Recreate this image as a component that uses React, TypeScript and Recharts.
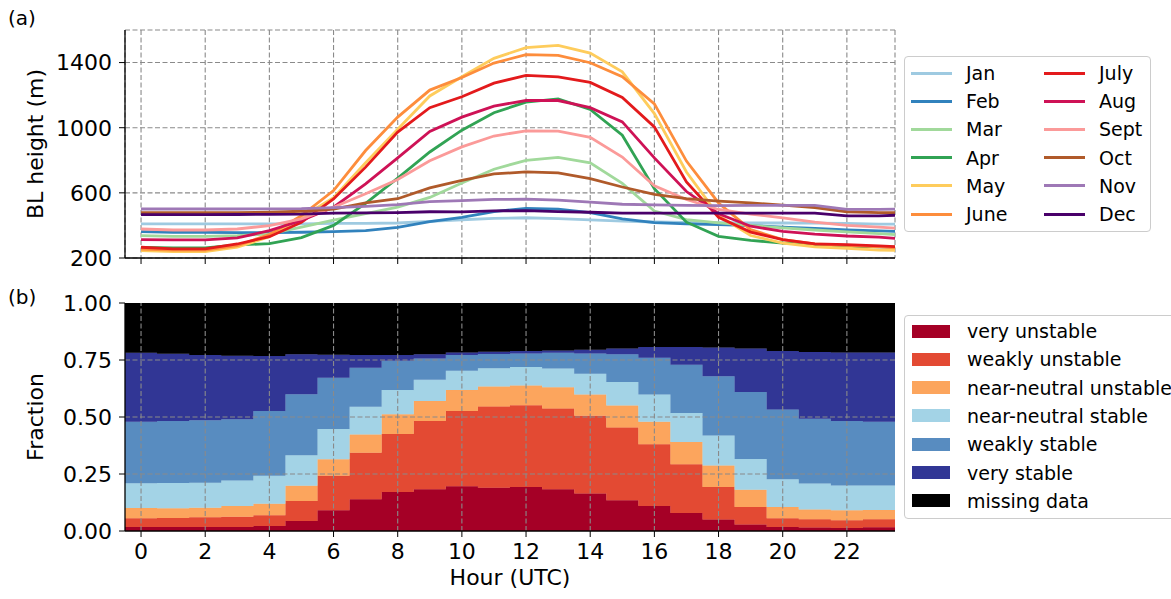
import React from 'react';
import { LineChart, Line, AreaChart, Area, XAxis, YAxis, CartesianGrid, ReferenceLine } from 'recharts';

// hour of day (UTC)
const hours = [0, 1, 2, 3, 4, 5, 6, 7, 8, 9, 10, 11, 12, 13, 14, 15, 16, 17, 18, 19, 20, 21, 22, 23];
const hourTicks = [0, 2, 4, 6, 8, 10, 12, 14, 16, 18, 20, 22];
const fracTicks = [0, 0.25, 0.5, 0.75, 1];

// mean boundary-layer height (m) per hour, one list per month
const jan = [409, 409, 409, 410, 410, 410, 412, 413, 415, 425, 435, 443, 447, 442, 434, 427, 421, 418, 417, 415, 415, 414, 412, 408];
const feb = [362, 358, 357, 356, 356, 358, 362, 368, 388, 423, 449, 485, 505, 500, 478, 440, 417, 410, 405, 399, 390, 382, 372, 366];
const mar = [337, 333, 333, 337, 348, 389, 432, 472, 512, 572, 660, 745, 800, 818, 784, 658, 488, 436, 416, 400, 385, 372, 360, 350];
const apr = [265, 262, 262, 280, 288, 325, 400, 535, 690, 851, 985, 1092, 1157, 1177, 1112, 954, 626, 420, 333, 308, 292, 282, 272, 268];
const may = [245, 240, 240, 266, 330, 450, 570, 785, 990, 1195, 1313, 1426, 1492, 1505, 1458, 1343, 1087, 728, 460, 338, 292, 269, 260, 248];
const jun = [255, 249, 249, 276, 344, 460, 614, 860, 1065, 1231, 1308, 1397, 1449, 1444, 1399, 1313, 1146, 795, 538, 374, 313, 287, 277, 269];
const jul = [266, 256, 256, 286, 331, 419, 563, 758, 973, 1123, 1190, 1274, 1321, 1312, 1278, 1186, 1005, 667, 450, 359, 313, 287, 282, 274];
const aug = [313, 311, 311, 323, 368, 430, 512, 655, 815, 977, 1065, 1133, 1167, 1167, 1123, 1036, 815, 608, 472, 395, 364, 347, 335, 328];
const sep = [378, 372, 372, 378, 399, 440, 512, 594, 682, 797, 882, 949, 981, 979, 941, 820, 643, 559, 498, 470, 446, 420, 400, 390];
const oct = [478, 478, 478, 479, 481, 487, 500, 538, 564, 631, 677, 716, 729, 723, 687, 636, 590, 564, 549, 538, 525, 510, 484, 479];
const nov = [501, 501, 501, 501, 502, 503, 509, 517, 528, 546, 552, 560, 561, 555, 543, 530, 526, 523, 522, 523, 523, 523, 498, 498];
const dec = [466, 466, 466, 467, 468, 469, 475, 477, 479, 484, 483, 489, 491, 485, 481, 476, 476, 476, 476, 476, 476, 476, 459, 459];

// fraction of each stability class per hour
const veryUnstable = [0.018, 0.018, 0.018, 0.018, 0.022, 0.044, 0.091, 0.139, 0.171, 0.183, 0.196, 0.19, 0.193, 0.183, 0.164, 0.135, 0.11, 0.079, 0.05, 0.029, 0.018, 0.015, 0.013, 0.016];
const weaklyUnstable = [0.038, 0.039, 0.042, 0.044, 0.047, 0.088, 0.151, 0.204, 0.254, 0.3, 0.33, 0.356, 0.359, 0.354, 0.341, 0.319, 0.27, 0.214, 0.143, 0.076, 0.038, 0.036, 0.034, 0.035];
const nearNeutralUnstable = [0.045, 0.043, 0.042, 0.048, 0.051, 0.067, 0.073, 0.08, 0.087, 0.087, 0.092, 0.088, 0.086, 0.093, 0.094, 0.096, 0.099, 0.097, 0.094, 0.076, 0.049, 0.043, 0.044, 0.041];
const nearNeutralStable = [0.108, 0.11, 0.11, 0.111, 0.122, 0.133, 0.132, 0.122, 0.106, 0.093, 0.085, 0.08, 0.081, 0.083, 0.091, 0.104, 0.12, 0.127, 0.132, 0.135, 0.122, 0.114, 0.109, 0.108];
const weaklyStable = [0.27, 0.273, 0.274, 0.269, 0.284, 0.268, 0.225, 0.171, 0.129, 0.094, 0.069, 0.062, 0.06, 0.069, 0.089, 0.121, 0.161, 0.212, 0.26, 0.294, 0.306, 0.284, 0.282, 0.279];
const veryStable = [0.303, 0.294, 0.286, 0.279, 0.241, 0.175, 0.101, 0.056, 0.025, 0.018, 0.011, 0.01, 0.01, 0.01, 0.016, 0.025, 0.047, 0.078, 0.126, 0.19, 0.256, 0.293, 0.301, 0.304];
const missingData = [0.218, 0.223, 0.228, 0.231, 0.233, 0.225, 0.227, 0.228, 0.228, 0.225, 0.217, 0.214, 0.211, 0.208, 0.205, 0.2, 0.193, 0.193, 0.195, 0.2, 0.211, 0.215, 0.217, 0.217];

const MONTHS = [
  { key: 'Jan', values: jan, color: '#9ecae1' },
  { key: 'Feb', values: feb, color: '#3182bd' },
  { key: 'Mar', values: mar, color: '#a1d99b' },
  { key: 'Apr', values: apr, color: '#31a354' },
  { key: 'May', values: may, color: '#fecc5c' },
  { key: 'June', values: jun, color: '#fd8d3c' },
  { key: 'July', values: jul, color: '#e31a1c' },
  { key: 'Aug', values: aug, color: '#ce1256' },
  { key: 'Sept', values: sep, color: '#fb9a99' },
  { key: 'Oct', values: oct, color: '#b05a2a' },
  { key: 'Nov', values: nov, color: '#9e78b6' },
  { key: 'Dec', values: dec, color: '#49006a' },
];

const CLASSES = [
  { key: 'very unstable', values: veryUnstable, color: '#a50026' },
  { key: 'weakly unstable', values: weaklyUnstable, color: '#e34a33' },
  { key: 'near-neutral unstable', values: nearNeutralUnstable, color: '#fca55d' },
  { key: 'near-neutral stable', values: nearNeutralStable, color: '#a3d3e6' },
  { key: 'weakly stable', values: weaklyStable, color: '#588cc0' },
  { key: 'very stable', values: veryStable, color: '#313695' },
  { key: 'missing data', values: missingData, color: '#000000' },
];

// hour 24 is midnight again, so the curves run on to the axis edge
const lineData = [...hours, 24].map((h) => {
  const row: Record<string, number> = { hour: h };
  MONTHS.forEach((m) => { row[m.key] = m.values[h % 24]; });
  return row;
});

// step edges: each hour fills [h - 0.5, h + 0.5]
const stepData = [...hours, 24].map((h) => {
  const i = Math.min(h, 23);
  const row: Record<string, number> = { edge: h - 0.5 };
  CLASSES.forEach((c) => { row[c.key] = c.values[i]; });
  return row;
});

const FONT = 22;
const LEGEND_FONT = 19;
const gridProps = { stroke: '#8a8a8a', strokeDasharray: '5 2.5', strokeWidth: 1.1 };
const spine = { stroke: '#000', strokeWidth: 1.3 };
const tickStyle = { fill: '#000', fontSize: FONT };

const App: React.FC = () => {
  return (
    <div style={{ position: 'absolute', left: 0, top: 0, width: 1171, height: 599, overflow: 'hidden', background: '#fff', fontFamily: '"DejaVu Sans", sans-serif', color: '#000' }}>
      <div style={{ position: 'absolute', left: 8, top: 6, fontSize: 20 }}>(a)</div>
      <div style={{ position: 'absolute', left: 8, top: 285, fontSize: 20 }}>(b)</div>

      <div style={{ position: 'absolute', left: 0, top: 0 }}>
        <LineChart width={900} height={270} data={lineData} margin={{ top: 30, right: 5, bottom: 0, left: 0 }}>
          <CartesianGrid {...gridProps} />
          <XAxis dataKey="hour" type="number" domain={[-0.5, 23.5]} allowDataOverflow ticks={hourTicks} interval={0}
            tickFormatter={() => ''} height={12} tickSize={6} axisLine={spine} tickLine={{ stroke: '#000' }} />
          <XAxis xAxisId="top" orientation="top" type="number" domain={[-0.5, 23.5]} height={0} tick={false} tickLine={false} axisLine={spine} />
          <YAxis type="number" domain={[200, 1600]} ticks={[200, 600, 1000, 1400]} interval={0} width={125} tickSize={6} tickMargin={7}
            axisLine={spine} tickLine={{ stroke: '#000' }} tick={tickStyle}
            label={{ value: 'BL height (m)', angle: -90, position: 'center', dx: -27, fill: '#000', fontSize: FONT }} />
          <YAxis yAxisId="right" orientation="right" domain={[0, 1]} width={0} tick={false} tickLine={false} axisLine={spine} />
          {MONTHS.map((m) => (
            <Line key={m.key} dataKey={m.key} type="linear" stroke={m.color} strokeWidth={2.8} dot={false} isAnimationActive={false} />
          ))}
        </LineChart>
      </div>

      <div style={{ position: 'absolute', left: 0, top: 270 }}>
        <AreaChart width={900} height={329} data={stepData} margin={{ top: 33, right: 5, bottom: 28, left: 0 }}>
          {CLASSES.map((c) => (
            <Area key={c.key} dataKey={c.key} type="stepAfter" stackId="frac" fill={c.color} fillOpacity={1}
              stroke={c.color} strokeWidth={0.6} isAnimationActive={false} />
          ))}
          {/* grid sits over the filled bands */}
          {hourTicks.map((t) => (
            <ReferenceLine key={`x${t}`} x={t} {...gridProps} />
          ))}
          {fracTicks.slice(1, 4).map((t) => (
            <ReferenceLine key={`y${t}`} y={t} {...gridProps} />
          ))}
          <XAxis dataKey="edge" type="number" domain={[-0.5, 23.5]} allowDataOverflow ticks={hourTicks} interval={0}
            height={40} tickSize={6} tickMargin={6} axisLine={spine} tickLine={{ stroke: '#000' }} tick={tickStyle}
            label={{ value: 'Hour (UTC)', position: 'bottom', offset: -2, fill: '#000', fontSize: FONT }} />
          <XAxis xAxisId="top" orientation="top" type="number" domain={[-0.5, 23.5]} height={0} tick={false} tickLine={false} axisLine={spine} />
          <YAxis type="number" domain={[0, 1]} allowDataOverflow ticks={fracTicks} interval={0} width={125} tickSize={6} tickMargin={7}
            tickFormatter={(v: number) => v.toFixed(2)} axisLine={spine} tickLine={{ stroke: '#000' }} tick={tickStyle}
            label={{ value: 'Fraction', angle: -90, position: 'center', dx: -27, fill: '#000', fontSize: FONT }} />
          <YAxis yAxisId="right" orientation="right" domain={[0, 1]} width={0} tick={false} tickLine={false} axisLine={spine} />
        </AreaChart>
      </div>

      {/* month legend, two columns */}
      <div style={{ position: 'absolute', left: 904, top: 56, width: 247, height: 176, border: '1px solid #cccccc', borderRadius: 4, boxSizing: 'border-box', fontSize: LEGEND_FONT }}>
        {MONTHS.map((m, i) => {
          const col = Math.floor(i / 6);
          const row = i % 6;
          return (
            <div key={m.key} style={{ position: 'absolute', left: 6 + col * 133, top: 16 + row * 28.2 - 12, height: 24, display: 'flex', alignItems: 'center' }}>
              <div style={{ width: 41, height: 3, background: m.color }} />
              <span style={{ marginLeft: 14, lineHeight: '24px' }}>{m.key}</span>
            </div>
          );
        })}
      </div>

      {/* stability legend */}
      <div style={{ position: 'absolute', left: 904, top: 315, width: 300, height: 204, border: '1px solid #cccccc', borderRadius: 4, boxSizing: 'border-box', fontSize: LEGEND_FONT }}>
        {CLASSES.map((c, i) => (
          <div key={c.key} style={{ position: 'absolute', left: 7, top: 15 + i * 28.3 - 12, height: 24, display: 'flex', alignItems: 'center', whiteSpace: 'nowrap' }}>
            <div style={{ width: 38, height: 13, background: c.color }} />
            <span style={{ marginLeft: 17, lineHeight: '24px' }}>{c.key}</span>
          </div>
        ))}
      </div>
    </div>
  );
};

export default App;
